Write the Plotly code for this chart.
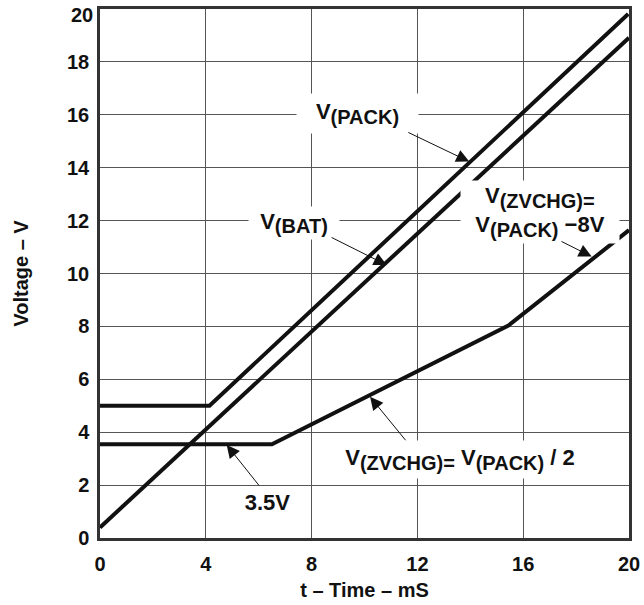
import plotly.graph_objects as go

# ---- data ----
pack_t = [0, 4.14, 19.97]
pack_v = [5.0, 5.0, 19.81]

bat_t = [0, 20]
bat_v = [0.4, 18.91]

zv_t = [0, 6.5, 15.44, 20]
zv_v = [3.54, 3.54, 8.03, 11.64]

x_ticks = [0, 4, 8, 12, 16, 20]
y_ticks = [0, 2, 4, 6, 8, 10, 12, 14, 16, 18, 20]

FONT = "Liberation Sans"
INK = "#111111"

fig = go.Figure()
for t, v in [(pack_t, pack_v), (bat_t, bat_v), (zv_t, zv_v)]:
    fig.add_trace(go.Scatter(x=t, y=v, mode="lines",
                             line=dict(color=INK, width=4),
                             showlegend=False, hoverinfo="skip"))

def sub(s, size=20):
    return f"<sub><span style='font-size:{size}px'>{s}</span></sub>"

labels = [
    # text, x, y, box width, box height
    ("V" + sub("(PACK)"), 9.74, 16.05, 119, 37),
    ("V" + sub("(BAT)"), 7.33, 11.91, 88, 30),
    ("V" + sub("(ZVCHG)=") + "<br>V" + sub("(PACK)") + " −8V", 16.64, 12.33, 156, 60),
    ("V" + sub("(ZVCHG)=") + " V" + sub("(PACK)") + " / 2", 13.61, 2.97, 250, 35),
    ("3.5V", 6.33, 1.34, 71, 25),
]
for text, x, y, w, h in labels:
    fig.add_annotation(x=x, y=y, xref="x", yref="y", text=text, showarrow=False,
                       width=w, height=h, bgcolor="white", align="center",
                       font=dict(family=FONT, size=22, color=INK, weight="bold"))

arrows = [
    # head x, head y, tail x, tail y
    (13.96, 14.23, 11.6, 15.36),
    (10.84, 10.32, 8.70, 11.39),
    (18.59, 10.64, 17.39, 11.24),
    (10.21, 5.34, 11.6, 3.64),
    (4.79, 3.52, 6.05, 1.94),
]
for hx, hy, tx, ty in arrows:
    fig.add_annotation(x=hx, y=hy, ax=tx, ay=ty, xref="x", yref="y",
                       axref="x", ayref="y", text="", showarrow=True,
                       arrowhead=2, arrowsize=2.6, arrowwidth=1,
                       arrowcolor=INK, standoff=0)

tickfont = dict(family=FONT, size=20, color=INK, weight="bold")
axis_common = dict(
    showline=True, mirror=True, linecolor="#333333", linewidth=2.5,
    showgrid=True, gridcolor="#555555", gridwidth=1, zeroline=False,
    ticks="", ticklabeloverflow="allow", tickfont=tickfont,
)
# the top y label sits slightly lower in the reference (kept inside the page)
y_ticktext = [str(v) if v != y_ticks[-1] else "" for v in y_ticks]
fig.add_annotation(xref="paper", x=0, xanchor="right", xshift=-5,
                   yref="y", y=y_ticks[-1], yanchor="middle", yshift=-6,
                   text=str(y_ticks[-1]), showarrow=False, font=tickfont)

fig.update_xaxes(range=[0, 20], tickvals=x_ticks, ticktext=[str(v) for v in x_ticks],
                 ticklabelstandoff=6,
                 title=dict(text="t – Time – mS", standoff=10,
                            font=dict(family=FONT, size=20, color=INK, weight="bold")),
                 **axis_common)
fig.update_yaxes(range=[0, 20], tickvals=y_ticks, ticktext=y_ticktext,
                 ticklabelstandoff=4,
                 title=dict(text="Voltage – V", standoff=34,
                            font=dict(family=FONT, size=20, color=INK, weight="bold")),
                 **axis_common)

fig.update_layout(width=644, height=605,
                  margin=dict(l=100, r=15, t=9, b=67, autoexpand=False),
                  plot_bgcolor="white", paper_bgcolor="white")

fig.write_html("out.html", config={"displayModeBar": False},
               post_script="document.body.style.margin='0';document.body.style.overflow='hidden';")
